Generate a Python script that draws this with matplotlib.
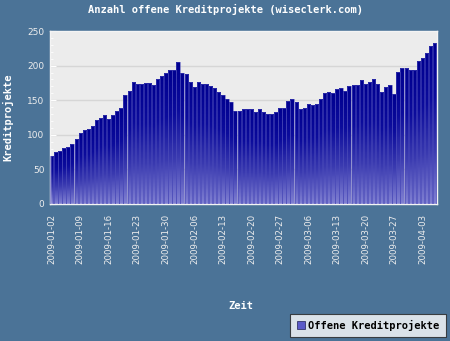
import numpy as np
import pandas as pd
import matplotlib
matplotlib.use("Agg")
import matplotlib.pyplot as plt
from matplotlib.colors import LinearSegmentedColormap

# daily count of open credit projects, 2009-01-02 .. 2009-04-06
values = [70, 75, 77, 81, 83, 87, 94, 102, 107, 108,
          113, 121, 124, 129, 123, 129, 135, 138, 158, 163,
          177, 174, 173, 175, 175, 172, 180, 185, 189, 193,
          193, 205, 190, 188, 176, 169, 176, 173, 174, 171,
          167, 162, 158, 152, 147, 135, 135, 137, 137, 137,
          133, 137, 133, 130, 130, 133, 139, 139, 149, 151,
          147, 137, 138, 144, 143, 144, 152, 160, 162, 160,
          166, 167, 164, 170, 172, 172, 179, 173, 176, 181,
          173, 162, 169, 172, 159, 191, 197, 196, 193, 194,
          206, 211, 218, 229, 233]
tick_labels = ['2009-01-02', '2009-01-09', '2009-01-16', '2009-01-23', '2009-01-30',
               '2009-02-06', '2009-02-13', '2009-02-20', '2009-02-27', '2009-03-06',
               '2009-03-13', '2009-03-20', '2009-03-27', '2009-04-03']
yticks = [0, 50, 100, 150, 200, 250]

dates = pd.date_range('2009-01-02', periods=len(values), freq='D')
x = np.arange(len(values))
tick_pos = [dates.get_loc(pd.Timestamp(t)) for t in tick_labels]

bg = '#4b7397'
mono = 'DejaVu Sans Mono'

fig = plt.figure(figsize=(4.5, 3.41), dpi=100, facecolor=bg)
ax = fig.add_axes([0.111, 0.402, 0.860, 0.507])
ax.set_facecolor('#ececec')

# dark at the top, lighter blue towards the baseline
cmap = LinearSegmentedColormap.from_list('bar', ['#000090', '#0c0c9c', '#3a3ab0', '#8080d2'])
grad = np.linspace(0, 1, 64).reshape(-1, 1)
bars = ax.bar(x, values, width=0.82, color='none', edgecolor='#4a4ab8', linewidth=0.4, zorder=3)
for b in bars:
    x0, w, h = b.get_x(), b.get_width(), b.get_height()
    im = ax.imshow(grad, cmap=cmap, aspect='auto', extent=(x0, x0 + w, 0, h),
                   origin='upper', zorder=2, interpolation='bilinear')
    im.set_clip_path(b)

ax.set_xlim(-0.45, len(values) - 0.45)
ax.set_ylim(0, 250)

for y in yticks[1:-1]:
    ax.axhline(y, color='#d6d6d6', linewidth=1, zorder=1)

ax.set_yticks(yticks)
ax.set_yticks(np.arange(0, 251, 10), minor=True)
ax.set_xticks(tick_pos)
ax.set_xticklabels(tick_labels, rotation=90)
ax.set_xticks(x, minor=True)
ax.tick_params(axis='y', which='major', direction='in', length=4, color='white',
               labelcolor='#eeeeee', labelsize=6.5, pad=4)
ax.tick_params(axis='y', which='minor', direction='in', length=2, color='white')
ax.tick_params(axis='x', which='major', direction='in', length=3, color='white',
               labelcolor='#eeeeee', labelsize=6.2, pad=7)
ax.tick_params(axis='x', which='minor', direction='in', length=2, color='white')

for s in ax.spines.values():
    s.set_color('#f4f4f4')
    s.set_linewidth(1)

fig.text(0.5, 0.972, 'Anzahl offene Kreditprojekte (wiseclerk.com)', ha='center', va='center',
         color='white', fontsize=7.5, fontweight='bold', family=mono)
fig.text(0.018, 0.655, 'Kreditprojekte', ha='center', va='center', rotation=90,
         color='white', fontsize=7.5, fontweight='bold', family=mono)
fig.text(0.535, 0.102, 'Zeit', ha='center', va='center',
         color='white', fontsize=7.5, fontweight='bold', family=mono)

leg = fig.legend([bars[0]], ['Offene Kreditprojekte'], loc='lower right',
                 bbox_to_anchor=(0.995, 0.005), frameon=True, fancybox=False,
                 prop={'family': mono, 'weight': 'bold', 'size': 7.5},
                 handlelength=0.8, handleheight=0.8, handletextpad=0.3,
                 borderpad=0.6, borderaxespad=0.2)
leg.get_frame().set_edgecolor('#222222')
leg.get_frame().set_linewidth(0.8)
h = leg.legend_handles[0]
h.set_facecolor('#5a5ac8')
h.set_edgecolor('#000033')

fig.savefig('out.png', dpi=100, facecolor=bg)
